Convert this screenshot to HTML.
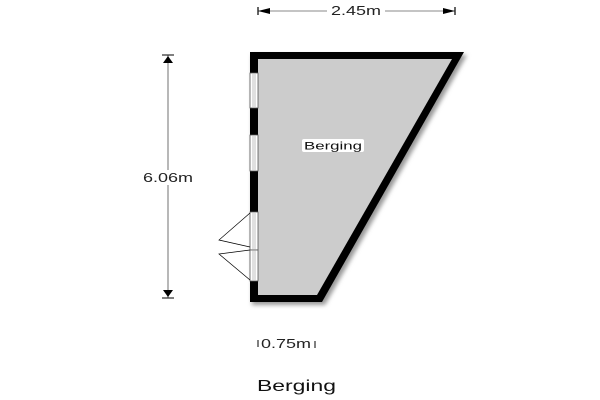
<!DOCTYPE html>
<html><head><meta charset="utf-8"><style>
html,body{margin:0;padding:0;background:#fff;}
svg{display:block}
text{font-family:"Liberation Sans",sans-serif;}
</style></head><body>
<svg width="600" height="400" viewBox="0 0 600 400" xmlns="http://www.w3.org/2000/svg">
<defs>
<filter id="sh" x="-20%" y="-20%" width="140%" height="140%"><feGaussianBlur stdDeviation="2"/></filter>
</defs>
<polygon points="252,55 467,55 325,305 252,305" fill="#999" filter="url(#sh)"/>
<polygon points="250,52 464,52 322,302 250,302" fill="#000"/>
<polygon points="258,59 452,59 317,295 258,295" fill="#cccccc"/>
<g fill="#fff" stroke="#555" stroke-width="0.8">
<rect x="250" y="73" width="8" height="35"/>
<rect x="250" y="135" width="8" height="36"/>
<rect x="250" y="212" width="8" height="38"/>
<rect x="250" y="250" width="8" height="31"/>
</g>
<g stroke="#999" stroke-width="0.6">
<line x1="253" y1="74" x2="253" y2="107"/><line x1="255" y1="74" x2="255" y2="107"/>
<line x1="253" y1="136" x2="253" y2="170"/><line x1="255" y1="136" x2="255" y2="170"/>
<line x1="253" y1="213" x2="253" y2="280"/><line x1="255" y1="213" x2="255" y2="280"/>
</g>
<g fill="none" stroke="#000" stroke-width="0.7">
<polyline points="250,213 219,240 250,247"/>
<polyline points="250,250 219,254 250,280"/>
</g>
<line x1="258" y1="11" x2="455" y2="11" stroke="#888" stroke-width="1"/>
<line x1="258" y1="7" x2="258" y2="15" stroke="#000" stroke-width="1.2"/>
<line x1="455" y1="7" x2="455" y2="15" stroke="#000" stroke-width="1.2"/>
<polygon points="258,11 270,8 270,14" fill="#000"/>
<polygon points="455,11 443,8 443,14" fill="#000"/>
<rect x="327" y="3" width="58" height="15" fill="#fff"/>
<text x="331" y="15" font-size="12.5" textLength="50" lengthAdjust="spacingAndGlyphs" fill="#222">2.45m</text>
<line x1="168" y1="55" x2="168" y2="298" stroke="#888" stroke-width="1.2"/>
<line x1="162" y1="55" x2="174" y2="55" stroke="#000" stroke-width="1"/>
<line x1="162" y1="298" x2="174" y2="298" stroke="#000" stroke-width="1"/>
<polygon points="168,56 163,63 173,63" fill="#000"/>
<polygon points="168,297 163,290 173,290" fill="#000"/>
<rect x="141" y="170" width="54" height="15" fill="#fff"/>
<text x="143" y="182" font-size="12.5" textLength="50" lengthAdjust="spacingAndGlyphs" fill="#222">6.06m</text>
<rect x="302" y="139" width="62" height="13" rx="2" fill="#fff"/>
<text x="304" y="149.5" font-size="11" textLength="58" lengthAdjust="spacingAndGlyphs" fill="#111">Berging</text>
<line x1="258" y1="340" x2="258" y2="347" stroke="#000" stroke-width="1"/>
<text x="261" y="348" font-size="12.5" textLength="50" lengthAdjust="spacingAndGlyphs" fill="#222">0.75m</text>
<line x1="315" y1="341" x2="315" y2="348" stroke="#000" stroke-width="1"/>
<text x="257" y="391" font-size="16" textLength="79" lengthAdjust="spacingAndGlyphs" fill="#111">Berging</text>
</svg>
</body></html>
